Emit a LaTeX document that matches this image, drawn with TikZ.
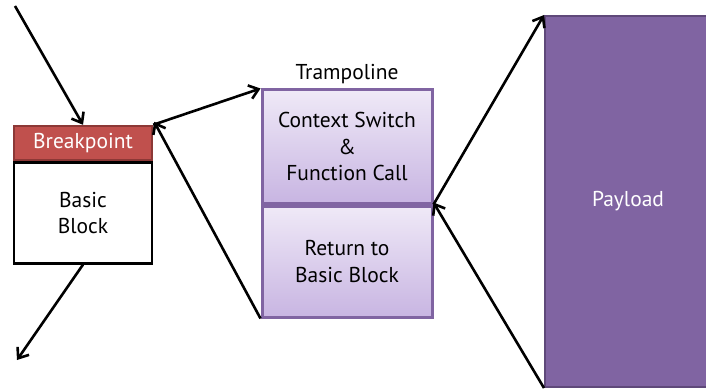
\documentclass[tikz,border=0pt]{standalone}
\usepackage{fontspec}
\setmainfont{PT Sans}
\usepackage{tikz}
\usetikzlibrary{arrows.meta,positioning}

\definecolor{bpred}{HTML}{C0504D}
\definecolor{bpdark}{HTML}{8C3836}
\definecolor{tramptop}{HTML}{EFE9F7}
\definecolor{trampbot}{HTML}{C8B5E2}
\definecolor{trampline}{HTML}{8064A2}
\definecolor{payfill}{HTML}{8064A2}
\definecolor{payline}{HTML}{5F497A}

\begin{document}
\begin{tikzpicture}[x=1pt,y=-1pt,>={Straight Barb[length=9pt,width=14pt]},
  line width=2.6pt,node distance=0pt,font=\fontsize{21.5}{26.5}\selectfont,
  bp node/.style={rectangle,fill=bpred,draw=bpdark,line width=2.4pt,text=white,
    minimum width=138pt,minimum height=34pt,inner sep=0pt},
  block node/.style={rectangle,fill=white,draw=black,line width=2.4pt,align=center,
    minimum width=138pt,minimum height=101pt,inner sep=0pt},
  tramp node/.style={rectangle,top color=tramptop,bottom color=trampbot,draw=trampline,
    line width=3pt,align=center,minimum width=170pt,inner sep=0pt},
  pay node/.style={rectangle,fill=payfill,draw=payline,line width=2pt,text=white,
    minimum width=166pt,minimum height=371pt,inner sep=0pt}]
  \clip (0,0) rectangle (706,390);

  \node[bp node] (bp) at (83,143) {Breakpoint};
  \node[block node] (bb) [below=of bp] {Basic\\Block};

  \node[tramp node,minimum height=113pt] (ctx) at (347,146.5) {Context Switch\\\&\\Function Call};
  \node[tramp node,minimum height=111pt] (ret) [below=of ctx] {Return to\\Basic Block};
  \node (tlabel) [above=0pt of ctx] {Trampoline};

  \node[pay node] (pay) at (628,201.5) {Payload};

  \coordinate (src) at (15,6);
  \coordinate (dst) at (17,360);

  \draw[->] (src) -- (bp.north);
  \draw[->] (bb.south) -- (dst);
  \draw[->] (bp.north east) -- (ctx.north west);
  \draw[->] (ret.south west) -- ([xshift=1pt,yshift=3pt]bp.north east);
  \draw[->] (ctx.south east) -- (pay.north west);
  \draw[->] (pay.south west) -- ([yshift=2pt]ctx.south east);
\end{tikzpicture}
\end{document}
